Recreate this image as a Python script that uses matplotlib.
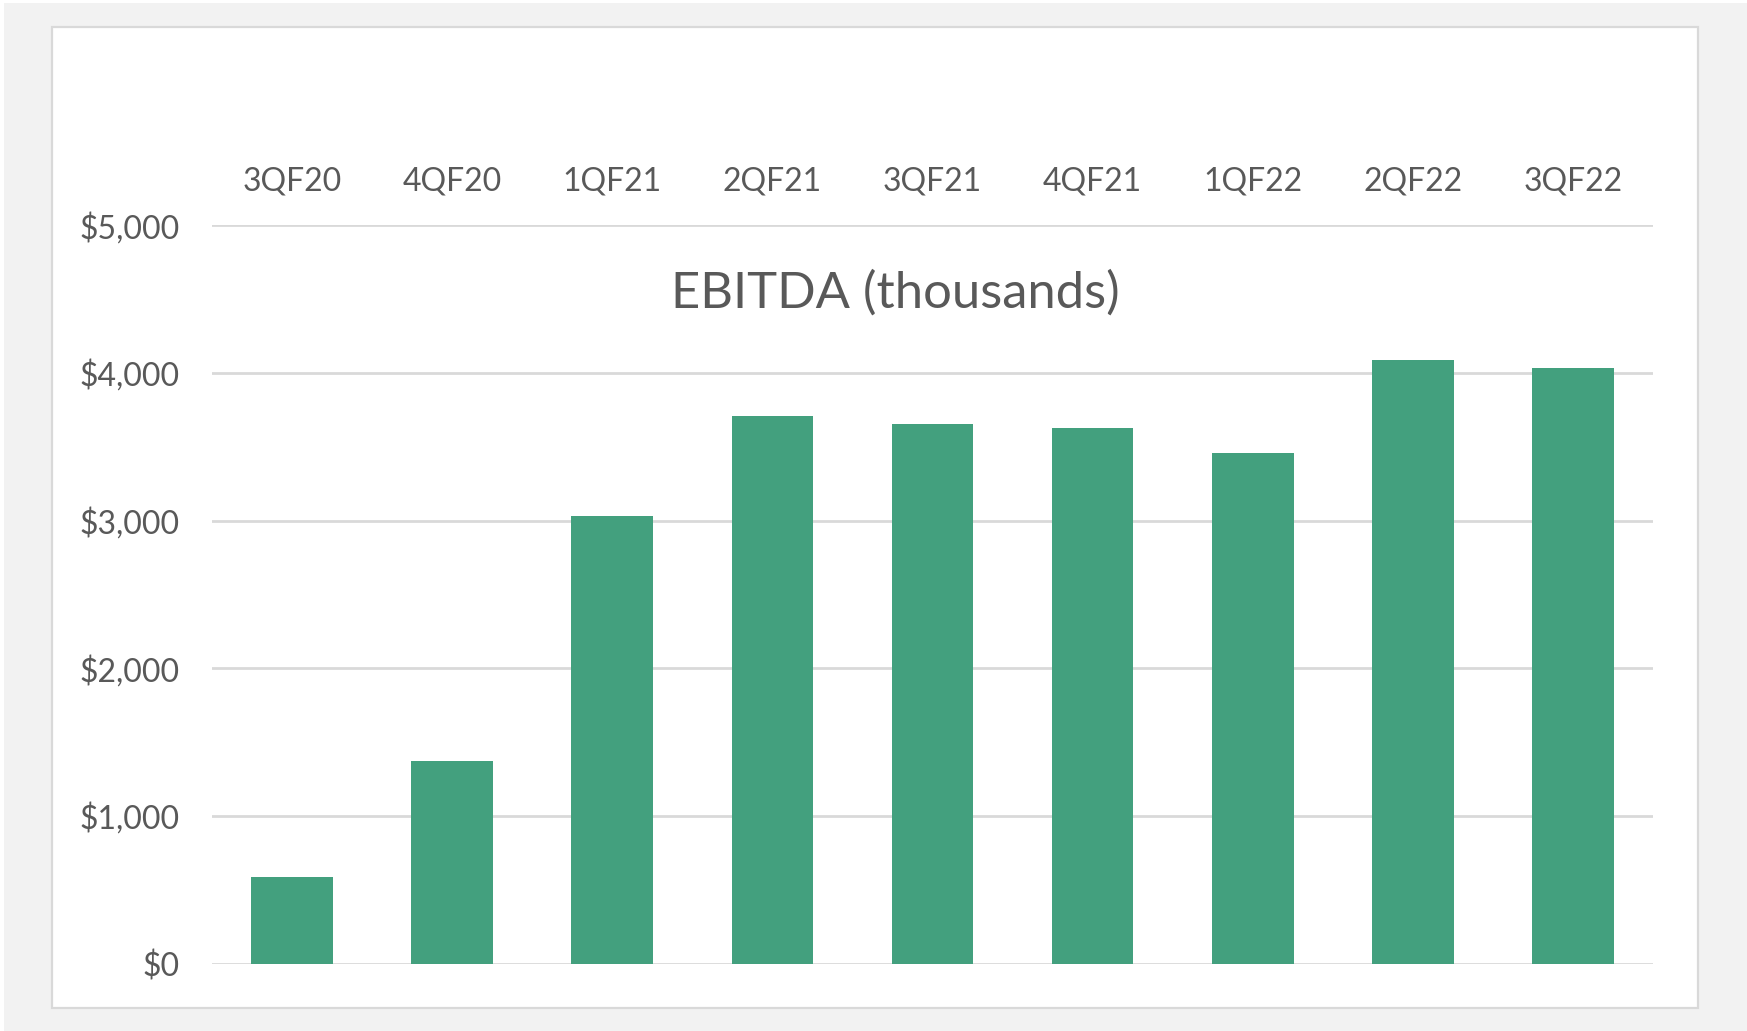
import matplotlib.pyplot as plt
import numpy as np
from matplotlib.patches import Rectangle
from matplotlib.ticker import FuncFormatter

quarters = ["3QF20", "4QF20", "1QF21", "2QF21", "3QF21", "4QF21", "1QF22", "2QF22", "3QF22"]
ebitda = [589, 1372, 3031, 3710, 3652, 3629, 3460, 4085, 4033]
y_ticks = [0, 1000, 2000, 3000, 4000, 5000]

plt.rcParams['font.family'] = ['Lato', 'DejaVu Sans']
text_color = '#595959'
grid_color = '#d9d9d9'
bar_color = '#43a07e'

W, H = 1747, 1031
fig = plt.figure(figsize=(W / 100, H / 100), dpi=100, facecolor='white')

# grey frame and white chart area
fig.patches.append(Rectangle((4 / W, 0), 1 - 4 / W, 1 - 3 / H, transform=fig.transFigure,
                             facecolor='#f2f2f2', edgecolor='none', zorder=0))
fig.patches.append(Rectangle((52 / W, 1 - 1008 / H), (1698 - 52) / W, (1008 - 27) / H,
                             transform=fig.transFigure, facecolor='white',
                             edgecolor=grid_color, linewidth=1.6, zorder=1))

ax = fig.add_axes([212 / W, 1 - 963.7 / H, (1653 - 212) / W, (963.7 - 225.2) / H])
ax.set_zorder(5)
ax.set_facecolor('none')

x = np.arange(len(quarters))
ax.bar(x, ebitda, width=0.51, color=bar_color, zorder=3)

ax.set_xlim(-0.5, len(quarters) - 0.5)
ax.set_ylim(0, 5000)
ax.set_yticks(y_ticks)
ax.yaxis.set_major_formatter(FuncFormatter(lambda v, p: "${:,.0f}".format(v)))
ax.set_xticks(x)
ax.set_xticklabels(quarters)
ax.xaxis.tick_top()

ax.grid(axis='y', color=grid_color, linewidth=2, zorder=0)
for s in ax.spines.values():
    s.set_visible(False)
ax.tick_params(axis='both', length=0, colors=text_color, labelsize=23)
ax.tick_params(axis='y', pad=23)
ax.tick_params(axis='x', pad=21)

fig.text(895 / W, 1 - 293 / H, "EBITDA (thousands)", ha='center', va='center',
         fontsize=36.5, color=text_color, zorder=6)

fig.savefig('out.png', dpi=100)
